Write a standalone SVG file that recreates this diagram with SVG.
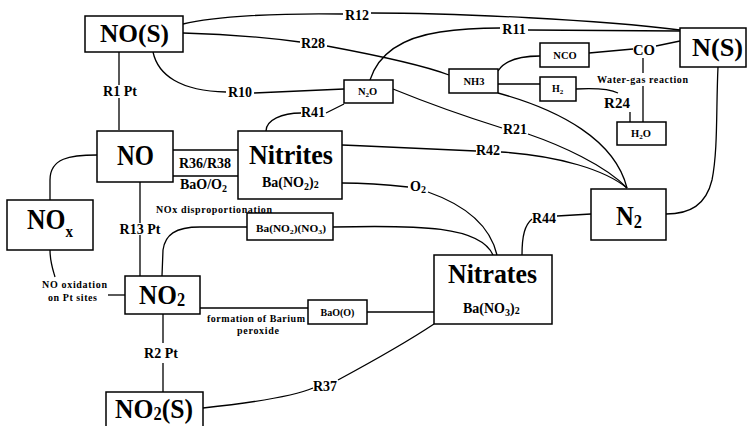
<svg xmlns="http://www.w3.org/2000/svg" width="747" height="426" viewBox="0 0 747 426">
<style>
.t{font-family:"Liberation Serif","Times New Roman",Times,"DejaVu Serif",serif;font-weight:700;fill:#000}
.box{fill:#fff;stroke:#000;stroke-width:1.5}
.ln{fill:none;stroke:#000;stroke-width:1.3}
.mid{font-size:14px}
.sm{font-size:10px}
.bx{font-size:10.5px}
</style>
<rect width="747" height="426" fill="#fff"/>
<g id="connectors" class="ln">
<path d="M183,24 C215,16 280,13 343,14 M371,13 C460,13 600,20 680,30"/>
<path d="M370,80 C378,55 400,38 440,32 C460,29 480,28 500,28 M528,30 L680,31"/>
<path d="M183,33 C230,34 270,38 300,42 M327,46 C370,54 420,64 449,75"/>
<path d="M153,52 C158,75 180,91 226,92 M254,93 L344,89"/>
<path d="M119,52 V85 M119,98 V130"/>
<path d="M266,131 C266,120 282,113 301,113 M326,113 L344,104"/>
<path d="M393,89 C420,100 470,118 502,128 M528,134 C560,145 605,165 627,188"/>
<path d="M342,145 C390,147 440,149 476,151 M501,152 C560,156 605,170 627,188"/>
<path d="M498,93 C560,110 615,140 627,188"/>
<path d="M498,71 C505,60 520,56 540,56"/>
<path d="M498,84 L540,84"/>
<path d="M589,53 L633,49"/>
<path d="M656,46 L680,41"/>
<path d="M643,58 V73 M643,86 V122"/>
<path d="M576,89 C595,88 610,89 618,93 M630,112 V122"/>
<path d="M718,67 C716,110 718,150 712,180 C706,205 690,214 666,214"/>
<path d="M173,150 H238 M173,176 H238"/>
<path d="M97,155 C70,155 50,158 50,180 V200"/>
<path d="M50,250 C50,262 53,270 55,277"/>
<path d="M108,295 H125"/>
<path d="M140,182 V223 M140,235 V276"/>
<path d="M162,276 L163,250 C165,235 175,227 200,227 L247,227"/>
<path d="M333,227 C420,225 480,226 493,255"/>
<path d="M342,183 C370,183 390,185 408,187 M428,192 C465,205 490,225 497,255"/>
<path d="M522,255 C522,235 525,225 532,219 M557,216 L591,214"/>
<path d="M200,308 H308"/>
<path d="M367,312 H434"/>
<path d="M163,314 V343 M163,363 V392"/>
<path d="M203,408 C240,404 290,398 313,388 M338,380 C375,360 410,340 434,324"/>
</g>
<g id="edge-labels">
<text class="t mid" x="357" y="20" text-anchor="middle">R12</text>
<text class="t mid" x="313" y="48" text-anchor="middle">R28</text>
<text class="t mid" x="514" y="34" text-anchor="middle">R11</text>
<text class="t mid" x="240" y="97" text-anchor="middle">R10</text>
<text class="t mid" x="313" y="117" text-anchor="middle">R41</text>
<text class="t mid" x="515" y="134" text-anchor="middle">R21</text>
<text class="t mid" x="488" y="155" text-anchor="middle">R42</text>
<text class="t mid" x="617" y="108" text-anchor="middle" style="font-size:15px">R24</text>
<text class="t mid" x="544" y="223" text-anchor="middle">R44</text>
<text class="t mid" x="325" y="391" text-anchor="middle">R37</text>
<text class="t mid" x="120" y="96" text-anchor="middle">R1 Pt</text>
<text class="t mid" x="140" y="234" text-anchor="middle">R13 Pt</text>
<text class="t mid" x="161" y="358" text-anchor="middle">R2 Pt</text>
<text class="t mid" x="205" y="168" text-anchor="middle">R36/R38</text>
<text class="t mid" x="180" y="189">BaO/O<tspan font-size="10" dy="3">2</tspan></text>
<text class="t mid" x="633" y="55" textLength="22" lengthAdjust="spacingAndGlyphs">CO</text>
<text class="t mid" x="410" y="191">O<tspan font-size="10" dy="2">2</tspan></text>
<text class="t sm" x="597" y="83" textLength="91" lengthAdjust="spacing">Water-gas reaction</text>
<text class="t sm" x="156" y="213" textLength="116" lengthAdjust="spacing">NOx disproportionation</text>
<text class="t sm" x="42" y="288" textLength="65" lengthAdjust="spacing">NO oxidation</text>
<text class="t sm" x="48" y="301" textLength="49" lengthAdjust="spacing">on Pt sites</text>
<text class="t sm" x="207" y="322" textLength="98" lengthAdjust="spacing">formation of Barium</text>
<text class="t sm" x="237" y="334" textLength="42" lengthAdjust="spacing">peroxide</text>
</g>
<g id="node-NOS">
<rect class="box" x="85" y="16" width="98" height="36"/>
<text class="t" x="100" y="42" font-size="26" textLength="69" lengthAdjust="spacingAndGlyphs">NO(S)</text>
</g>
<g id="node-NS">
<rect class="box" x="680" y="28" width="66" height="39"/>
<text class="t" x="692" y="56" font-size="26" textLength="51" lengthAdjust="spacingAndGlyphs">N(S)</text>
</g>
<g id="node-NO">
<rect class="box" x="97" y="131" width="76" height="51"/>
<text class="t" x="117" y="165" font-size="29" textLength="37" lengthAdjust="spacingAndGlyphs">NO</text>
</g>
<g id="node-NOx">
<rect class="box" x="7" y="200" width="86" height="50"/>
<text class="t" x="27" y="229" font-size="29" textLength="46" lengthAdjust="spacingAndGlyphs">NO<tspan font-size="17" dy="8">x</tspan></text>
</g>
<g id="node-Nitrites">
<rect class="box" x="238" y="131" width="104" height="68"/>
<text class="t" x="249" y="164" font-size="27" textLength="84" lengthAdjust="spacingAndGlyphs">Nitrites</text>
<text class="t" x="262" y="187" font-size="14">Ba(NO<tspan font-size="10" dy="3">2</tspan><tspan dy="-3">)</tspan><tspan font-size="10" dy="1">2</tspan></text>
</g>
<g id="node-N2O">
<rect class="box" x="344" y="80" width="49" height="23"/>
<text class="t bx" x="358" y="95">N<tspan font-size="7" dy="2">2</tspan><tspan dy="-2">O</tspan></text>
</g>
<g id="node-NH3">
<rect class="box" x="449" y="69" width="49" height="24"/>
<text class="t bx" x="474" y="85" text-anchor="middle">NH3</text>
</g>
<g id="node-NCO">
<rect class="box" x="540" y="43" width="49" height="24"/>
<text class="t bx" x="565" y="59" text-anchor="middle">NCO</text>
</g>
<g id="node-H2">
<rect class="box" x="540" y="77" width="36" height="24"/>
<text class="t sm" x="552" y="92">H<tspan font-size="7" dy="2">2</tspan></text>
</g>
<g id="node-H2O">
<rect class="box" x="617" y="122" width="49" height="23"/>
<text class="t bx" x="631" y="137">H<tspan font-size="7" dy="2">2</tspan><tspan dy="-2">O</tspan></text>
</g>
<g id="node-N2">
<rect class="box" x="591" y="189" width="75" height="51"/>
<text class="t" x="616" y="225" font-size="27" textLength="26" lengthAdjust="spacingAndGlyphs">N<tspan font-size="18" dy="3">2</tspan></text>
</g>
<g id="node-BaNO2NO3">
<rect class="box" x="247" y="213" width="86" height="27"/>
<text class="t sm" x="256" y="232" textLength="70" lengthAdjust="spacingAndGlyphs">Ba(NO<tspan font-size="7" dy="2">2</tspan><tspan dy="-2">)(NO</tspan><tspan font-size="7" dy="2">3</tspan><tspan dy="-2">)</tspan></text>
</g>
<g id="node-NO2">
<rect class="box" x="125" y="276" width="75" height="38"/>
<text class="t" x="139" y="304" font-size="28" textLength="46" lengthAdjust="spacingAndGlyphs">NO<tspan font-size="18" dy="2">2</tspan></text>
</g>
<g id="node-BaOO">
<rect class="box" x="308" y="300" width="59" height="24"/>
<text class="t sm" x="337.5" y="316" text-anchor="middle">BaO(O)</text>
</g>
<g id="node-Nitrates">
<rect class="box" x="434" y="255" width="118" height="69"/>
<text class="t" x="448" y="283" font-size="27" textLength="89" lengthAdjust="spacingAndGlyphs">Nitrates</text>
<text class="t" x="463" y="313" font-size="14">Ba(NO<tspan font-size="10" dy="3">3</tspan><tspan dy="-3">)</tspan><tspan font-size="10" dy="1">2</tspan></text>
</g>
<g id="node-NO2S">
<rect class="box" x="106" y="392" width="97" height="40"/>
<text class="t" x="115" y="418" font-size="28" textLength="78" lengthAdjust="spacingAndGlyphs">NO<tspan font-size="18" dy="2">2</tspan><tspan dy="-2">(S)</tspan></text>
</g>
</svg>
